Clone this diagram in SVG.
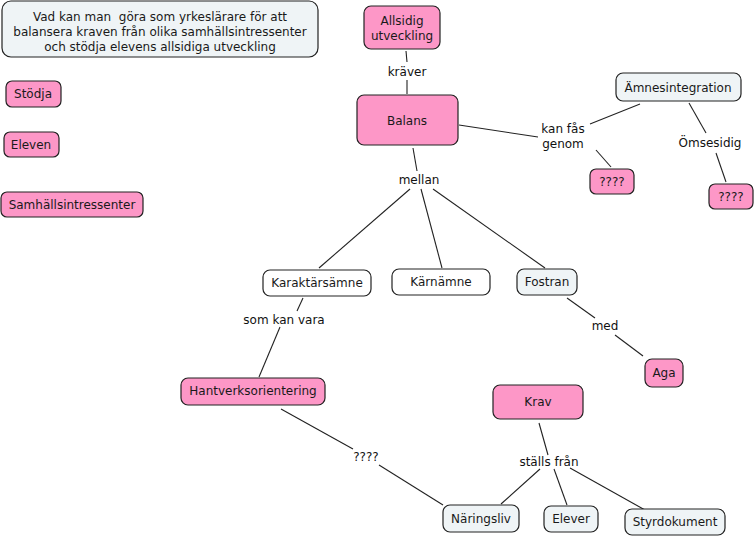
<svg xmlns="http://www.w3.org/2000/svg" width="755" height="539" viewBox="0 0 755 539">
<style>
  .n rect { stroke: #222; stroke-width: 1.2; }
  .pink rect { fill: #fd97c7; }
  .lite rect { fill: #eff4f6; }
  .white rect { fill: #ffffff; }
  text { font-family: "DejaVu Sans", Verdana, sans-serif; font-size: 12px; fill: #1a1a1a; text-anchor: middle; }
  .lbl { fill: #111; }
  #connectors line { stroke: #222; stroke-width: 1.1; }
</style>
<rect width="755" height="539" fill="#ffffff"/>
<g id="connectors">
  <line x1="406" y1="51" x2="407" y2="62"/>
  <line x1="407" y1="80" x2="407" y2="94"/>
  <line x1="459" y1="125" x2="538" y2="137"/>
  <line x1="590" y1="124" x2="640" y2="104"/>
  <line x1="596" y1="150" x2="611" y2="167"/>
  <line x1="689" y1="103" x2="706" y2="133"/>
  <line x1="716" y1="153" x2="726" y2="182"/>
  <line x1="413" y1="148" x2="417" y2="171"/>
  <line x1="410" y1="189" x2="319" y2="268"/>
  <line x1="421" y1="189" x2="442" y2="268"/>
  <line x1="433" y1="189" x2="545" y2="268"/>
  <line x1="303" y1="298" x2="297" y2="311"/>
  <line x1="280" y1="327" x2="259" y2="377"/>
  <line x1="567" y1="298" x2="595" y2="318"/>
  <line x1="615" y1="335" x2="643" y2="356"/>
  <line x1="281" y1="409" x2="353" y2="449"/>
  <line x1="379" y1="465" x2="443" y2="505"/>
  <line x1="539" y1="423" x2="548" y2="455"/>
  <line x1="540" y1="469" x2="501" y2="504"/>
  <line x1="554" y1="469" x2="567" y2="505"/>
  <line x1="570" y1="468" x2="645" y2="510"/>
</g>
<g id="title" class="n lite">
  <rect x="2" y="1" width="316" height="56" rx="9"/>
  <text x="160" y="21" xml:space="preserve">Vad kan man  göra som yrkeslärare för att</text>
  <text x="160" y="36">balansera kraven från olika samhällsintressenter</text>
  <text x="160" y="51">och stödja elevens allsidiga utveckling</text>
</g>
<g id="allsidig" class="n pink">
  <rect x="364" y="6" width="76" height="43" rx="7"/>
  <text x="402" y="25">Allsidig</text>
  <text x="402" y="40">utveckling</text>
</g>
<g id="lbl-kraver"><text class="lbl" x="407" y="76">kräver</text></g>
<g id="balans" class="n pink">
  <rect x="357" y="95" width="101" height="50" rx="7"/>
  <text x="407" y="125">Balans</text>
</g>
<g id="lbl-kanfas">
  <text class="lbl" x="563" y="133">kan fås</text>
  <text class="lbl" x="563" y="148">genom</text>
</g>
<g id="amnesintegration" class="n lite">
  <rect x="616" y="73" width="125" height="28" rx="7"/>
  <text x="678" y="92">Ämnesintegration</text>
</g>
<g id="lbl-omsesidig"><text class="lbl" x="710" y="147">Ömsesidig</text></g>
<g id="q1" class="n pink">
  <rect x="590" y="169" width="44" height="25" rx="6"/>
  <text x="612" y="186">????</text>
</g>
<g id="q2" class="n pink">
  <rect x="709" y="184" width="44" height="25" rx="6"/>
  <text x="731" y="201">????</text>
</g>
<g id="stodja" class="n pink">
  <rect x="6" y="81" width="55" height="26" rx="6"/>
  <text x="33" y="98">Stödja</text>
</g>
<g id="eleven" class="n pink">
  <rect x="4" y="132" width="55" height="25" rx="6"/>
  <text x="31" y="149">Eleven</text>
</g>
<g id="samhall" class="n pink">
  <rect x="1" y="192" width="142" height="25" rx="6"/>
  <text x="72" y="209">Samhällsintressenter</text>
</g>
<g id="lbl-mellan"><text class="lbl" x="419" y="184">mellan</text></g>
<g id="karaktar" class="n white">
  <rect x="263" y="270" width="108" height="26" rx="7"/>
  <text x="317" y="287">Karaktärsämne</text>
</g>
<g id="karn" class="n white">
  <rect x="392" y="269" width="98" height="26" rx="7"/>
  <text x="441" y="286">Kärnämne</text>
</g>
<g id="fostran" class="n lite">
  <rect x="517" y="269" width="60" height="26" rx="7"/>
  <text x="547" y="286">Fostran</text>
</g>
<g id="lbl-somkanvara"><text class="lbl" x="284" y="324">som kan vara</text></g>
<g id="hantverk" class="n pink">
  <rect x="181" y="378" width="144" height="27" rx="7"/>
  <text x="253" y="395">Hantverksorientering</text>
</g>
<g id="lbl-med"><text class="lbl" x="605" y="330">med</text></g>
<g id="aga" class="n pink">
  <rect x="645" y="359" width="38" height="28" rx="7"/>
  <text x="664" y="377">Aga</text>
</g>
<g id="krav" class="n pink">
  <rect x="493" y="385" width="90" height="34" rx="7"/>
  <text x="538" y="406">Krav</text>
</g>
<g id="lbl-q"><text class="lbl" x="366" y="461">????</text></g>
<g id="lbl-stallsfran"><text class="lbl" x="549" y="466">ställs från</text></g>
<g id="naringsliv" class="n lite">
  <rect x="443" y="505" width="76" height="27" rx="7"/>
  <text x="481" y="523">Näringsliv</text>
</g>
<g id="elever" class="n lite">
  <rect x="544" y="506" width="54" height="26" rx="7"/>
  <text x="571" y="523">Elever</text>
</g>
<g id="styrdokument" class="n lite">
  <rect x="625" y="509" width="100" height="26" rx="7"/>
  <text x="675" y="526">Styrdokument</text>
</g>
</svg>
